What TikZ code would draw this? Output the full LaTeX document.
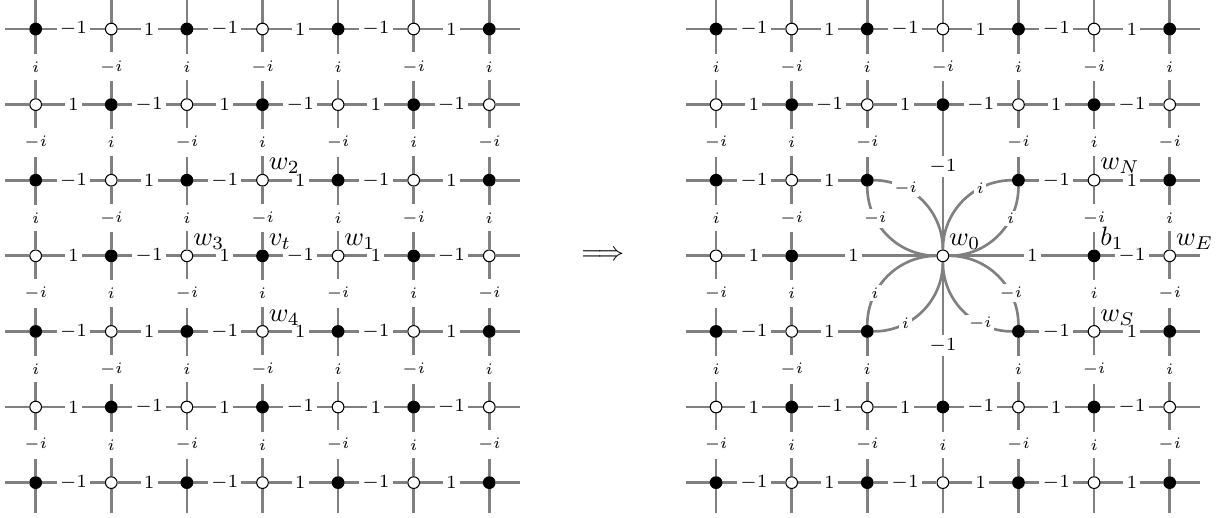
\documentclass[tikz,border=0pt]{standalone}
\usepackage{amsmath}
\usepackage{amssymb}
\usetikzlibrary{calc,backgrounds}
\tikzset{
	v0/.style={circle,draw=black,fill=black,inner sep=0pt,minimum size=4.4pt},
	v1/.style={circle,draw=black,fill=white,inner sep=0pt,minimum size=4.4pt},
	gline/.style={draw=gray,line width=1pt},
	hlab/.style={fill=white,inner sep=1.2pt,font=\scriptsize},
	vlab/.style={fill=white,inner xsep=1pt,inner ysep=3pt,font=\fontsize{6}{7}\selectfont},
	clab/.style={fill=white,inner sep=1pt,font=\fontsize{6}{7}\selectfont},
	vname/.style={anchor=south west,inner sep=0.5pt},
}
\begin{document}
\begin{tikzpicture}
\useasboundingbox (-0.472,-6.468) rectangle (15.732,0.384);
% left lattice
\foreach \c in {0,...,6}
	\foreach \r in {0,...,6}{
		\pgfmathtruncatemacro{\p}{mod(\c+\r,2)}
		\node[v\p] (L-\c-\r) at (\c,-\r) {};
	}
\foreach \k in {0,...,6}{
	\coordinate (L-w\k) at (-0.4,-\k);
	\coordinate (L-e\k) at (6.4,-\k);
	\coordinate (L-n\k) at (\k,0.4);
	\coordinate (L-s\k) at (\k,-6.4);
}
\begin{scope}[on background layer]
\foreach \k in {0,...,6}{
	\draw[gline] (L-w\k) -- (L-0-\k) (L-6-\k) -- (L-e\k);
	\draw[gline] (L-n\k) -- (L-\k-0) (L-\k-6) -- (L-s\k);
}
\foreach \r in {0,...,6}
	\foreach \c in {0,...,5}{
		\pgfmathtruncatemacro{\p}{mod(\c+\r,2)}
		\pgfmathtruncatemacro{\d}{\c+1}
		\draw[gline] (L-\c-\r) -- node[hlab]{\ifnum\p=0 $-1$\else $1$\fi} (L-\d-\r);
	}
\foreach \c in {0,...,6}
	\foreach \r in {0,...,5}{
		\pgfmathtruncatemacro{\p}{mod(\c+\r,2)}
		\pgfmathtruncatemacro{\d}{\r+1}
		\draw[gline] (L-\c-\r) -- node[vlab]{\ifnum\p=0 $i$\else $-i$\fi} (L-\c-\d);
	}
\end{scope}
\node[vname] at (L-3-2.north east) {$w_2$};
\node[vname] at (L-2-3.north east) {$w_3$};
\node[vname] at (L-3-3.north east) {$v_t$};
\node[vname] at (L-4-3.north east) {$w_1$};
\node[vname] at (L-3-4.north east) {$w_4$};

\node (arr) at (7.5,-3) {$\Longrightarrow$};

% right lattice
\begin{scope}[xshift=9cm]
\foreach \c/\rs in {0/{0,...,6},1/{0,...,6},2/{0,1,2,4,5,6},3/{0,1,5,6},4/{0,1,2,4,5,6},5/{0,...,6},6/{0,...,6}}
	\foreach \r in \rs {
		\pgfmathtruncatemacro{\p}{mod(\c+\r,2)}
		\node[v\p] (R-\c-\r) at (\c,-\r) {};
	}
\node[v1] (R-3-3) at (3,-3) {};
\foreach \k in {0,...,6}{
	\coordinate (R-w\k) at (-0.4,-\k);
	\coordinate (R-e\k) at (6.4,-\k);
	\coordinate (R-n\k) at (\k,0.4);
	\coordinate (R-s\k) at (\k,-6.4);
}
\begin{scope}[on background layer]
\foreach \k in {0,...,6}{
	\draw[gline] (R-w\k) -- (R-0-\k) (R-6-\k) -- (R-e\k);
	\draw[gline] (R-n\k) -- (R-\k-0) (R-\k-6) -- (R-s\k);
}
\foreach \r/\cs in {0/{0,...,5},1/{0,...,5},2/{0,1,4,5},3/{0,5},4/{0,1,4,5},5/{0,...,5},6/{0,...,5}}
	\foreach \c in \cs {
		\pgfmathtruncatemacro{\p}{mod(\c+\r,2)}
		\pgfmathtruncatemacro{\d}{\c+1}
		\draw[gline] (R-\c-\r) -- node[hlab]{\ifnum\p=0 $-1$\else $1$\fi} (R-\d-\r);
	}
\foreach \c/\rs in {0/{0,...,5},1/{0,...,5},2/{0,1,4,5},3/{0,5},4/{0,1,4,5},5/{0,...,5},6/{0,...,5}}
	\foreach \r in \rs {
		\pgfmathtruncatemacro{\p}{mod(\c+\r,2)}
		\pgfmathtruncatemacro{\d}{\r+1}
		\draw[gline] (R-\c-\r) -- node[vlab]{\ifnum\p=0 $i$\else $-i$\fi} (R-\c-\d);
	}
\draw[gline] (R-1-3) -- node[hlab,pos=0.4]{$1$} (R-3-3);
\draw[gline] (R-3-3) -- node[hlab,pos=0.6]{$1$} (R-5-3);
\draw[gline] (R-3-1) -- node[hlab,pos=0.4]{$-1$} (R-3-3);
\draw[gline] (R-3-3) -- node[hlab,pos=0.6]{$-1$} (R-3-5);
\draw[gline] (R-2-2) to[out=0,in=90] node[clab,pos=0.3]{$-i$} (R-3-3);
\draw[gline] (R-2-2) to[out=-90,in=180] node[clab,pos=0.3]{$-i$} (R-3-3);
\draw[gline] (R-4-2) to[out=180,in=90] node[clab,pos=0.3]{$i$} (R-3-3);
\draw[gline] (R-4-2) to[out=-90,in=0] node[clab,pos=0.3]{$i$} (R-3-3);
\draw[gline] (R-2-4) to[out=0,in=-90] node[clab,pos=0.3]{$i$} (R-3-3);
\draw[gline] (R-2-4) to[out=90,in=180] node[clab,pos=0.3]{$i$} (R-3-3);
\draw[gline] (R-4-4) to[out=180,in=-90] node[clab,pos=0.3]{$-i$} (R-3-3);
\draw[gline] (R-4-4) to[out=90,in=0] node[clab,pos=0.3]{$-i$} (R-3-3);
\end{scope}
\node[vname] at (R-3-3.north east) {$w_0$};
\node[vname] at (R-5-2.north east) {$w_N$};
\node[vname] at (R-5-3.north east) {$b_1$};
\node[vname] at (R-5-4.north east) {$w_S$};
\node[vname] at (R-6-3.north east) {$w_E$};
\end{scope}
\end{tikzpicture}
\end{document}
